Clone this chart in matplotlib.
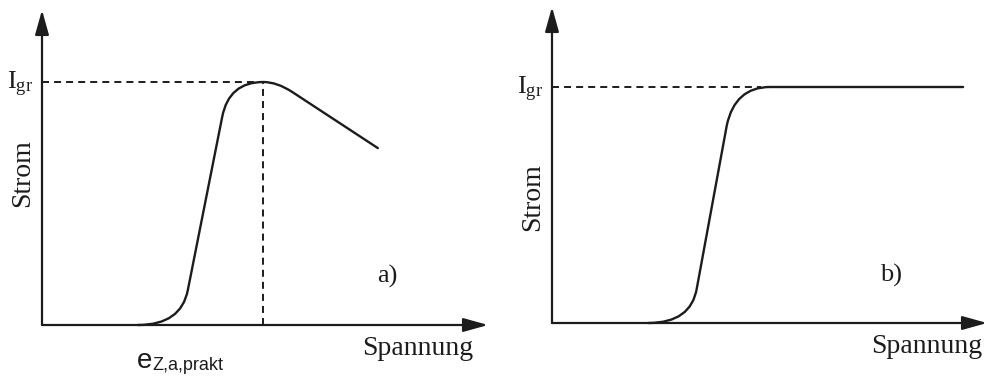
import matplotlib
matplotlib.use("Agg")
import matplotlib.pyplot as plt
from matplotlib.path import Path
from matplotlib.patches import PathPatch

plt.rcParams["mathtext.fontset"] = "custom"
plt.rcParams["mathtext.rm"] = "Liberation Serif"
plt.rcParams["mathtext.it"] = "Liberation Serif:italic"
plt.rcParams["mathtext.sf"] = "Liberation Sans"

# Current-voltage characteristics (arbitrary units, I_gr = 100)
I_GR = 100

# a) current peaks at I_gr and then falls off
curve_a_u = [21.5, 31.2, 32.7, 40.4, 41.9, 49.6, 52.7, 56.1, 75.3]
curve_a_i = [0.0, 0.0, 14.4, 85.6, 100.0, 100.0, 100.0, 95.9, 72.8]
curve_a_codes = ["move", "ctrl", "end", "line", "ctrl", "end", "ctrl", "end", "line"]
peak_u_a = 49.6

# b) current saturates at I_gr
curve_b_u = [22.1, 32.0, 33.3, 40.2, 42.1, 50.1, 94.5]
curve_b_i = [0.0, 0.0, 14.8, 83.9, 100.0, 100.0, 100.0]
curve_b_codes = ["move", "ctrl", "end", "line", "ctrl", "end", "line"]
dash_end_u_b = 48.0

x_label = "Spannung"
y_label = "Strom"
level_label = r"$\mathrm{I}_{\mathrm{gr}}$"
panel_labels = ["a)", "b)"]

INK = "#1c1c1c"
W, H = 987, 378

fig = plt.figure(figsize=(W / 100, H / 100), dpi=100)
fig.patch.set_facecolor("white")


def make_axes(x0, x1, y_bottom, y_top, px_per_unit_y):
    """Axes whose origin sits at pixel (x0, y_bottom)."""
    ax = fig.add_axes([x0 / W, (H - y_bottom) / H, (x1 - x0) / W, (y_bottom - y_top) / H])
    ax.set_xlim(0, 100)
    ax.set_ylim(0, (y_bottom - y_top) / px_per_unit_y)
    ax.axis("off")
    return ax


def draw_axes_arrows(ax):
    xmax = ax.get_xlim()[1]
    ymax = ax.get_ylim()[1]
    style = dict(arrowstyle="-|>,head_length=1.5,head_width=0.42",
                 color=INK, lw=1.6, shrinkA=0, shrinkB=0, mutation_scale=10)
    ax.annotate("", xy=(xmax, 0), xytext=(0, 0), arrowprops=style, annotation_clip=False)
    ax.annotate("", xy=(0, ymax), xytext=(0, 0), arrowprops=style, annotation_clip=False)


def draw_curve(ax, us, iss, codes):
    code_map = {"move": Path.MOVETO, "line": Path.LINETO,
                "ctrl": Path.CURVE3, "end": Path.CURVE3}
    path = Path(list(zip(us, iss)), [code_map[c] for c in codes])
    ax.add_patch(PathPatch(path, facecolor="none", edgecolor=INK, lw=1.7,
                           capstyle="round", joinstyle="round", clip_on=False))


def draw_labels(ax, panel, label_xy, ylab_y, spann_x):
    ax.annotate(level_label, xy=(0, I_GR), xytext=(-6, -2), textcoords="offset points",
                ha="right", va="center", fontsize=19, color=INK, annotation_clip=False)
    ax.annotate(y_label, xy=(0, ylab_y), xytext=(-14, 0), textcoords="offset points",
                ha="center", va="center", rotation=90, fontsize=20,
                family="Liberation Serif", color=INK, annotation_clip=False)
    ax.text(spann_x, -9.8, x_label, ha="right", va="center", fontsize=20,
            family="Liberation Serif", color=INK, clip_on=False)
    ax.text(label_xy[0], label_xy[1], panel, ha="center", va="center", fontsize=19,
            family="Liberation Serif", color=INK, clip_on=False)


dash_kw = dict(color=INK, lw=1.4, dashes=(3.6, 2.6), clip_on=False)

# ---- panel a ----
ax_a = make_axes(42, 488, 325, 10, 2.43)
draw_axes_arrows(ax_a)
ax_a.plot([0, peak_u_a], [I_GR, I_GR], **dash_kw)
ax_a.plot([peak_u_a, peak_u_a], [0, I_GR], **dash_kw)
draw_curve(ax_a, curve_a_u, curve_a_i, curve_a_codes)
draw_labels(ax_a, panel_labels[0], (77.4, 19.8), 62.5, 96.6)
# practical breakdown voltage label under the onset of the rise
ax_a.annotate("e", xy=(curve_a_u[0], 0), xytext=(-1, -31), textcoords="offset points",
              ha="left", va="baseline", fontsize=20, family="Liberation Sans",
              color=INK, annotation_clip=False)
ax_a.annotate("Z,a,prakt", xy=(curve_a_u[0], 0), xytext=(10.5, -32.5),
              textcoords="offset points", ha="left", va="baseline", fontsize=13,
              family="Liberation Sans", color=INK, annotation_clip=False)

# ---- panel b ----
ax_b = make_axes(552, 987, 323, 7, 2.36)
draw_axes_arrows(ax_b)
ax_b.plot([0, dash_end_u_b], [I_GR, I_GR], **dash_kw)
draw_curve(ax_b, curve_b_u, curve_b_i, curve_b_codes)
draw_labels(ax_b, panel_labels[1], (77.9, 20.3), 53.4, 98.9)

fig.savefig("out.png", dpi=100, facecolor="white")
